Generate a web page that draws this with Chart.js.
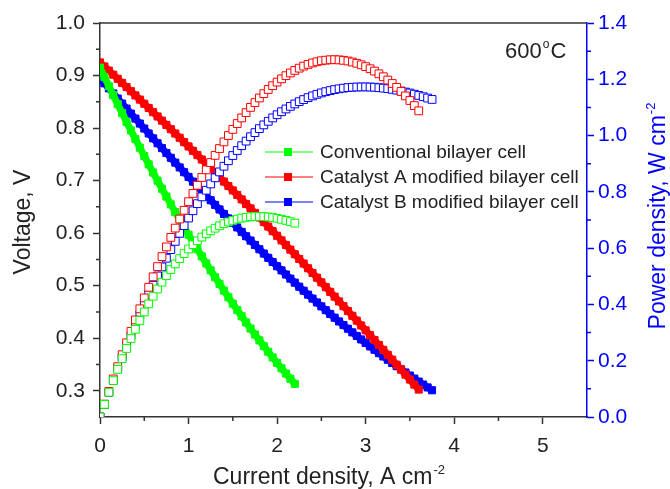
<!DOCTYPE html>
<html>
<head>
<meta charset="utf-8">
<script src="https://cdn.jsdelivr.net/npm/chart.js@4.4.1/dist/chart.umd.min.js"></script>
<style>
  html, body { margin: 0; padding: 0; background: #fff; }
  #wrap { width: 670px; height: 489px; }
</style>
</head>
<body>
<div id="wrap"><canvas id="chart" width="670" height="489"></canvas></div>
<script>
// current density, A cm-2 (shared x values, each series uses the first N)
const current = [0, 0.05, 0.1, 0.15, 0.2, 0.25, 0.3, 0.35, 0.4, 0.45, 0.5, 0.55, 0.6, 0.65, 0.7, 0.75, 0.8, 0.85, 0.9, 0.95,
  1.0, 1.05, 1.1, 1.15, 1.2, 1.25, 1.3, 1.35, 1.4, 1.45, 1.5, 1.55, 1.6, 1.65, 1.7, 1.75, 1.8, 1.85, 1.9, 1.95,
  2.0, 2.05, 2.1, 2.15, 2.2, 2.25, 2.3, 2.35, 2.4, 2.45, 2.5, 2.55, 2.6, 2.65, 2.7, 2.75, 2.8, 2.85, 2.9, 2.95,
  3.0, 3.05, 3.1, 3.15, 3.2, 3.25, 3.3, 3.35, 3.4, 3.45, 3.5, 3.55, 3.6, 3.65, 3.7, 3.75];

// conventional bilayer cell
const greenV = [0.915, 0.8973, 0.8799, 0.8626, 0.8455, 0.8286, 0.8118, 0.7953, 0.7789, 0.7627, 0.7468, 0.7309, 0.7153, 0.6999, 0.6846,
  0.6696, 0.6547, 0.6400, 0.6255, 0.6111, 0.597, 0.5830, 0.5693, 0.5557, 0.5423, 0.5291, 0.5160, 0.5032, 0.4905, 0.4780,
  0.4658, 0.4536, 0.4417, 0.4300, 0.4184, 0.4071, 0.3959, 0.3849, 0.3741, 0.3634, 0.353, 0.3427, 0.3327, 0.3228, 0.3131];
const greenP = [0, 0.0449, 0.0880, 0.1294, 0.1691, 0.2072, 0.2435, 0.2784, 0.3116, 0.3432, 0.3734, 0.4020, 0.4292, 0.4549, 0.4792,
  0.5022, 0.5238, 0.5440, 0.5630, 0.5805, 0.5970, 0.6122, 0.6262, 0.6391, 0.6508, 0.6614, 0.6708, 0.6793, 0.6867, 0.6931,
  0.6987, 0.7031, 0.7067, 0.7095, 0.7113, 0.7124, 0.7126, 0.7121, 0.7108, 0.7086, 0.7060, 0.7025, 0.6987, 0.6940, 0.6888];

// catalyst A modified bilayer cell
const redV = [0.925, 0.9172, 0.9094, 0.9016, 0.8938, 0.8859, 0.8781, 0.8701, 0.8622, 0.8542, 0.8463, 0.8382, 0.8302, 0.8221, 0.8141,
  0.8059, 0.7978, 0.7896, 0.7815, 0.7732, 0.765, 0.7567, 0.7485, 0.7401, 0.7318, 0.7234, 0.7151, 0.7066, 0.6982, 0.6897,
  0.6813, 0.6727, 0.6642, 0.6556, 0.6471, 0.6384, 0.6298, 0.6211, 0.6125, 0.6037, 0.595, 0.5862, 0.5775, 0.5686, 0.5598,
  0.5509, 0.5421, 0.5331, 0.5242, 0.5152, 0.5063, 0.4972, 0.4882, 0.4791, 0.4700, 0.4609, 0.4518, 0.4426, 0.4334, 0.4242,
  0.415, 0.4057, 0.3965, 0.3871, 0.3778, 0.3684, 0.3591, 0.3496, 0.3402, 0.3307, 0.3213, 0.3117, 0.3022];
const redP = [0, 0.0459, 0.0909, 0.1352, 0.1788, 0.2215, 0.2634, 0.3045, 0.3449, 0.3844, 0.4232, 0.4610, 0.4981, 0.5344, 0.5699,
  0.6044, 0.6382, 0.6712, 0.7034, 0.7345, 0.765, 0.7945, 0.8234, 0.8511, 0.8782, 0.9043, 0.9296, 0.9539, 0.9775, 1.0001,
  1.0220, 1.0427, 1.0627, 1.0817, 1.1001, 1.1172, 1.1336, 1.1490, 1.1638, 1.1772, 1.190, 1.2017, 1.2128, 1.2225, 1.2316,
  1.2395, 1.2468, 1.2528, 1.2581, 1.2622, 1.2658, 1.2679, 1.2693, 1.2696, 1.2690, 1.2675, 1.2650, 1.2614, 1.2569, 1.2514,
  1.245, 1.2374, 1.2292, 1.2194, 1.2090, 1.1973, 1.1850, 1.1712, 1.1567, 1.1409, 1.1246, 1.1065, 1.0879];

// catalyst B modified bilayer cell
const blueV = [0.895, 0.8853, 0.8756, 0.8659, 0.8562, 0.8466, 0.8371, 0.8275, 0.8180, 0.8086, 0.7991, 0.7897, 0.7804, 0.7711, 0.7618,
  0.7525, 0.7434, 0.7342, 0.7251, 0.7160, 0.707, 0.6980, 0.6891, 0.6802, 0.6714, 0.6626, 0.6538, 0.6451, 0.6365, 0.6279,
  0.6194, 0.6109, 0.6025, 0.5941, 0.5858, 0.5775, 0.5693, 0.5611, 0.5530, 0.5450, 0.537, 0.5291, 0.5212, 0.5134, 0.5057,
  0.4980, 0.4904, 0.4829, 0.4754, 0.4680, 0.4606, 0.4533, 0.4461, 0.4390, 0.4319, 0.4249, 0.4180, 0.4111, 0.4043, 0.3976,
  0.391, 0.3844, 0.3780, 0.3715, 0.3652, 0.3590, 0.3528, 0.3467, 0.3407, 0.3347, 0.3289, 0.3231, 0.3174, 0.3118, 0.3063, 0.3009];
const blueP = [0, 0.0443, 0.0876, 0.1299, 0.1712, 0.2117, 0.2511, 0.2896, 0.3272, 0.3639, 0.3996, 0.4343, 0.4682, 0.5012, 0.5333,
  0.5644, 0.5947, 0.6241, 0.6526, 0.6802, 0.7070, 0.7329, 0.7580, 0.7822, 0.8057, 0.8283, 0.8499, 0.8709, 0.8911, 0.9105,
  0.9291, 0.9469, 0.9640, 0.9803, 0.9959, 1.0106, 1.0247, 1.0380, 1.0507, 1.0628, 1.0740, 1.0847, 1.0945, 1.1038, 1.1125,
  1.1205, 1.1279, 1.1348, 1.1410, 1.1466, 1.1515, 1.1559, 1.1599, 1.1634, 1.1661, 1.1685, 1.1704, 1.1716, 1.1725, 1.1729,
  1.1730, 1.1724, 1.1718, 1.1702, 1.1686, 1.1668, 1.1642, 1.1614, 1.1584, 1.1547, 1.1512, 1.1470, 1.1426, 1.1381, 1.1333, 1.1284];

const seriesNames = ['Conventional bilayer cell', 'Catalyst A modified bilayer cell', 'Catalyst B modified bilayer cell'];
const seriesColors = ['#00ff00', '#ff0000', '#0000ff'];

// minor tick values (major ones come from the scales)
const xMinor = [0.5, 1.5, 2.5, 3.5, 4.5];
const vMinor = [0.35, 0.45, 0.55, 0.65, 0.75, 0.85, 0.95];
const pMinor = [0.1, 0.3, 0.5, 0.7, 0.9, 1.1, 1.3];

const FONT = "'Liberation Sans', Arial, sans-serif";
const AXIS = '#333333';
const BLUE = '#0000ff';

function pts(vals) {
  return vals.map((v, i) => ({ x: current[i], y: v }));
}

function openSet(vals, color) {
  return {
    data: pts(vals), yAxisID: 'p', showLine: false,
    pointStyle: 'rect', pointRadius: 5.5, pointBorderWidth: 1,
    pointBorderColor: color, pointBackgroundColor: '#ffffff'
  };
}
function filledSet(vals, color) {
  // dense filled squares in the original merge into a solid band
  return {
    data: pts(vals), yAxisID: 'v', showLine: true,
    borderColor: color, borderWidth: 7, tension: 0,
    pointStyle: 'rect', pointRadius: 5, pointBorderWidth: 1,
    pointBorderColor: color, pointBackgroundColor: color
  };
}

// text with a small raised part, e.g. "cm" + "-2"
function textSup(ctx, main, sup, x, y, size, supSize) {
  ctx.font = size + 'px ' + FONT;
  ctx.fillText(main, x, y);
  const w = ctx.measureText(main).width;
  ctx.font = supSize + 'px ' + FONT;
  ctx.fillText(sup, x + w + 1, y - size * 0.42);
}
function supWidth(ctx, main, sup, size, supSize) {
  ctx.font = size + 'px ' + FONT;
  const w = ctx.measureText(main).width;
  ctx.font = supSize + 'px ' + FONT;
  return w + 1 + ctx.measureText(sup).width;
}

const decor = {
  id: 'decor',
  afterDraw(chart) {
    const ctx = chart.ctx;
    const a = chart.chartArea;
    const sx = chart.scales.x, sv = chart.scales.v, sp = chart.scales.p;
    ctx.save();

    // top frame line
    ctx.strokeStyle = AXIS;
    ctx.lineWidth = 1.5;
    ctx.beginPath();
    ctx.moveTo(a.left, a.top);
    ctx.lineTo(a.right, a.top);
    ctx.stroke();

    // minor ticks
    ctx.beginPath();
    xMinor.forEach(v => { const px = sx.getPixelForValue(v); ctx.moveTo(px, a.bottom); ctx.lineTo(px, a.bottom + 4); });
    vMinor.forEach(v => { const py = sv.getPixelForValue(v); ctx.moveTo(a.left, py); ctx.lineTo(a.left - 4, py); });
    ctx.stroke();
    ctx.strokeStyle = BLUE;
    ctx.beginPath();
    pMinor.forEach(v => { const py = sp.getPixelForValue(v); ctx.moveTo(a.right, py); ctx.lineTo(a.right + 4, py); });
    ctx.stroke();

    // axis titles
    ctx.fillStyle = '#222';
    ctx.textBaseline = 'alphabetic';
    ctx.textAlign = 'left';
    textSup(ctx, 'Current density, A cm', '-2', 213, 484, 23, 13);

    ctx.save();
    ctx.translate(30, 222);
    ctx.rotate(-Math.PI / 2);
    ctx.textAlign = 'center';
    ctx.font = '23px ' + FONT;
    ctx.fillText('Voltage, V', 0, 0);
    ctx.restore();

    ctx.save();
    ctx.fillStyle = BLUE;
    ctx.translate(665, 216);
    ctx.rotate(-Math.PI / 2);
    const tw = supWidth(ctx, 'Power density, W cm', '-2', 23, 13);
    textSup(ctx, 'Power density, W cm', '-2', -tw / 2, 0, 23, 13);
    ctx.restore();

    // temperature label
    ctx.fillStyle = '#222';
    ctx.font = '22px ' + FONT;
    ctx.fillText('600', 505, 58);
    const w = ctx.measureText('600').width;
    ctx.font = '12px ' + FONT;
    ctx.fillText('o', 505 + w + 1, 48);
    const wo = ctx.measureText('o').width;
    ctx.font = '22px ' + FONT;
    ctx.fillText('C', 505 + w + wo + 2, 58);

    // legend
    ctx.textBaseline = 'middle';
    seriesNames.forEach((name, i) => {
      const y = 152 + i * 25;
      ctx.strokeStyle = seriesColors[i];
      ctx.lineWidth = 1;
      ctx.beginPath();
      ctx.moveTo(265, y);
      ctx.lineTo(313, y);
      ctx.stroke();
      ctx.fillStyle = seriesColors[i];
      ctx.fillRect(284, y - 4, 8, 8);
      ctx.fillStyle = '#222';
      ctx.font = '19px ' + FONT;
      ctx.fillText(name, 320, y + 1);
    });
    ctx.restore();
  }
};

new Chart(document.getElementById('chart'), {
  type: 'scatter',
  data: {
    datasets: [
      // power curves first so they are drawn on top
      openSet(greenP, seriesColors[0]),
      openSet(redP, seriesColors[1]),
      openSet(blueP, seriesColors[2]),
      filledSet(greenV, seriesColors[0]),
      filledSet(redV, seriesColors[1]),
      filledSet(blueV, seriesColors[2])
    ]
  },
  options: {
    responsive: false,
    animation: false,
    layout: { padding: { top: 23, left: 0, right: 0, bottom: 0 } },
    plugins: { legend: { display: false }, tooltip: { enabled: false } },
    scales: {
      x: {
        type: 'linear', min: 0, max: 5.5,
        afterFit: s => { s.height = 72; },
        ticks: { stepSize: 1, includeBounds: false, autoSkip: false, maxRotation: 0, padding: 10,
                 color: '#222', font: { family: FONT, size: 21 } },
        grid: { drawOnChartArea: false, tickLength: 7, tickColor: AXIS, tickWidth: 1.5 },
        border: { display: true, color: AXIS, width: 1.5 }
      },
      v: {
        type: 'linear', position: 'left', min: 0.25, max: 1.0,
        afterFit: s => { s.width = 100; },
        ticks: { stepSize: 0.1, includeBounds: false, autoSkip: false, padding: 8,
                 color: '#222', font: { family: FONT, size: 21 }, callback: v => v.toFixed(1) },
        grid: { drawOnChartArea: false, tickLength: 7, tickColor: AXIS, tickWidth: 1.5 },
        border: { display: true, color: AXIS, width: 1.5 }
      },
      p: {
        type: 'linear', position: 'right', min: 0, max: 1.4,
        afterFit: s => { s.width = 83; },
        ticks: { stepSize: 0.2, autoSkip: false, padding: 4,
                 color: BLUE, font: { family: FONT, size: 21 }, callback: v => v.toFixed(1) },
        grid: { drawOnChartArea: false, tickLength: 7, tickColor: BLUE, tickWidth: 1.5 },
        border: { display: true, color: BLUE, width: 1.5 }
      }
    }
  },
  plugins: [decor]
});
</script>
</body>
</html>
